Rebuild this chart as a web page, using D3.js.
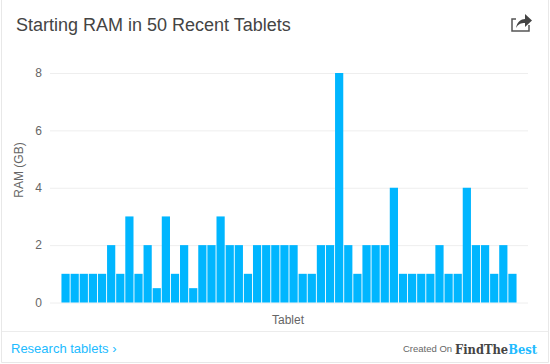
<!DOCTYPE html>
<html>
<head>
<meta charset="utf-8">
<script src="https://d3js.org/d3.v7.min.js"></script>
<style>
  html, body { margin: 0; padding: 0; background: #fff; overflow: hidden; }
  text { font-family: "Liberation Sans", Arial, sans-serif; }
  .axis .domain { display: none; }
  .axis .tick line { stroke: #eeeeee; }
  .axis .tick text { fill: #666; font-size: 12px; }
</style>
</head>
<body>
<div class="canvas"></div>
<script>
const ramValues = [1, 1, 1, 1, 1, 2, 1, 3, 1, 2, 0.5, 3, 1, 2, 0.5, 2, 2, 3, 2, 2, 1, 2, 2, 2, 2, 2, 1, 1, 2, 2,
    8, 2, 1, 2, 2, 2, 4, 1, 1, 1, 1, 2, 1, 1, 4, 2, 2, 1, 2, 1];
const yTicks = [0, 2, 4, 6, 8];
const titleText = 'Starting RAM in 50 Recent Tablets';
const xTitle = 'Tablet';
const yTitle = 'RAM (GB)';

const dims = { width: 550, height: 364 };
const plot = { left: 61, right: 517, top: 73, bottom: 302.5, gridLeft: 50, gridRight: 528 };

const svg = d3.select('.canvas')
    .append('svg')
    .attr('width', dims.width)
    .attr('height', dims.height)
    .style('display', 'block');

// card outline + footer rule
svg.append('path')
    .attr('d', 'M1.5,0V362.5H548.5V0')
    .attr('fill', 'none')
    .attr('stroke', '#e8e8e8');
svg.append('line')
    .attr('x1', 2).attr('x2', 548)
    .attr('y1', 331.5).attr('y2', 331.5)
    .attr('stroke', '#ececec');

svg.append('text')
    .attr('x', 16).attr('y', 31)
    .attr('font-size', 18)
    .attr('fill', '#444')
    .text(titleText);

const x = d3.scaleBand()
    .domain(d3.range(ramValues.length))
    .range([plot.left, plot.right])
    .paddingInner(0.1)
    .paddingOuter(0.05);

const y = d3.scaleLinear()
    .domain([0, 8])
    .range([plot.bottom, plot.top]);

const yAxis = d3.axisLeft(y)
    .tickValues(yTicks)
    .tickSize(-(plot.gridRight - plot.gridLeft))
    .tickPadding(8);

svg.append('g')
    .attr('class', 'axis')
    .attr('transform', `translate(${plot.gridLeft}, 0)`)
    .call(yAxis);

svg.selectAll('rect.bar')
    .data(ramValues)
    .enter()
    .append('rect')
    .attr('class', 'bar')
    .attr('x', (d, i) => x(i))
    .attr('width', x.bandwidth())
    .attr('y', d => y(d))
    .attr('height', d => y(0) - y(d))
    .attr('fill', '#00b6ff');

svg.append('text')
    .attr('x', 288).attr('y', 324)
    .attr('text-anchor', 'middle')
    .attr('font-size', 12)
    .attr('fill', '#666')
    .text(xTitle);

svg.append('text')
    .attr('transform', 'translate(23, 170) rotate(-90)')
    .attr('text-anchor', 'middle')
    .attr('font-size', 12)
    .attr('fill', '#666')
    .text(yTitle);

// footer
svg.append('text')
    .attr('x', 11).attr('y', 353)
    .attr('font-size', 13)
    .attr('fill', '#22bbff')
    .text('Research tablets ›');

svg.append('text')
    .attr('x', 403).attr('y', 352)
    .attr('font-size', 9.5)
    .attr('fill', '#666')
    .text('Created On');

const logo = svg.append('text')
    .attr('x', 455).attr('y', 354)
    .attr('font-size', 13.5)
    .attr('font-weight', 'bold')
    .style('font-family', '"DejaVu Serif", serif')
    .attr('textLength', 82)
    .attr('lengthAdjust', 'spacingAndGlyphs');
logo.append('tspan').attr('fill', '#444').text('FindThe');
logo.append('tspan').attr('fill', '#22bbff').text('Best');

// share icon
const icon = svg.append('g').attr('transform', 'translate(511, 13)');
icon.append('path')
    .attr('d', 'M5,6H1V18H18V12')
    .attr('fill', 'none')
    .attr('stroke', '#555')
    .attr('stroke-width', 1.5);
icon.append('path')
    .attr('d', 'M5,15C6,9 10,6 14,6V1L21,7.5L14,14V10C10,10 7,11 5,15Z')
    .attr('fill', '#444');
</script>
</body>
</html>
